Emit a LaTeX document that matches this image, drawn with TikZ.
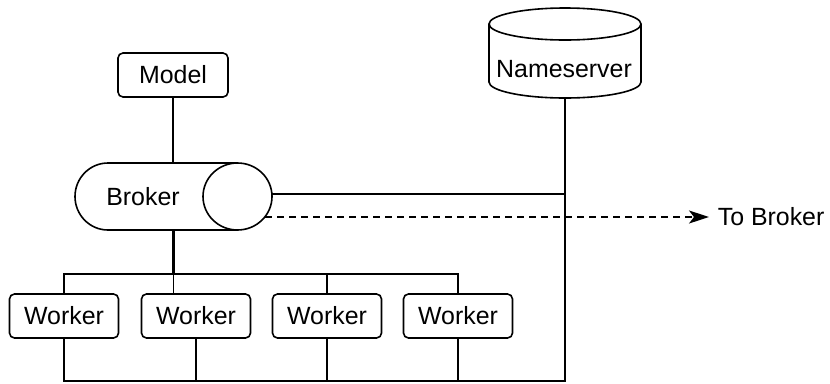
\documentclass[tikz,border=0pt]{standalone}
\usepackage{fontspec}
\setmainfont{Liberation Sans}
\usetikzlibrary{arrows.meta}
\begin{document}
\begin{tikzpicture}[x=1bp,y=-1bp,
  line width=1.6bp,
  every node/.style={font=\fontsize{25}{29}\selectfont},
  box/.style={draw,rounded corners=5bp,minimum width=109bp,minimum height=44bp,inner sep=0pt},
  frame/.style={inner sep=0pt},
  trunk/.style={line width=2.4bp},
  msg/.style={dash pattern=on 7bp off 5bp,-{Stealth[length=20bp,width=13bp,inset=5bp]}}
  ]
\useasboundingbox (0,0) rectangle (830,383);

% Model
\node[box,minimum width=110bp] (model) at (173,75) {Model};

% Broker: horizontal cylinder
\node[frame,minimum width=197bp,minimum height=67bp] (broker) at (173.5,196.5) {};
\node (brokerlabel) at (143,197) {Broker};
\draw (237.5,163) -- (108,163)
      arc[start angle=270,end angle=90,x radius=33,y radius=33.5] -- (237.5,230);
\draw (237.5,196.5) ellipse [x radius=34.5,y radius=33.5];

% Nameserver: vertical cylinder
\node[frame,minimum width=152bp,minimum height=90bp] (ns) at (565,53) {};
\node (nslabel) at (564,69) {Nameserver};
\draw (489,24) -- (489,82)
      arc[start angle=180,end angle=0,x radius=76,y radius=16] -- (641,24);
\draw (565,24) ellipse [x radius=76,y radius=16];

% Workers
\node[box] (w1) at (64,316) {Worker};
\node[box] (w2) at (196,316) {Worker};
\node[box] (w3) at (327,316) {Worker};
\node[box] (w4) at (458,316) {Worker};

% Junction points
\coordinate (bus) at (64,274);
\coordinate (nsfoot) at (565,381);
\coordinate (brokerport) at (272,194);
\coordinate (dashstart) at (265,217);
\node[anchor=west,inner sep=0pt] (tobroker) at (717,217) {To Broker};

% Model to broker
\draw (model.south) -- (model.south |- broker.north);

% Broker to worker bus
\draw[trunk] (broker.south) -- (broker.south |- bus);
\draw (w1.north) |- (w4.north |- bus) -- (w4.north);
\draw (broker.south |- bus) -- (broker.south |- w2.north);
\draw (w3.north) -- (w3.north |- bus);

% Workers to nameserver bus
\draw (w1.south) |- (nsfoot) -- (ns.south);
\draw (w2.south) -- (w2.south |- nsfoot);
\draw (w3.south) -- (w3.south |- nsfoot);
\draw (w4.south) -- (w4.south |- nsfoot);

% Broker to nameserver
\draw (brokerport) -- (brokerport -| ns.south);

% Link to another broker
\draw[msg,shorten >=8bp] (dashstart) -- (tobroker.west);
\end{tikzpicture}
\end{document}
